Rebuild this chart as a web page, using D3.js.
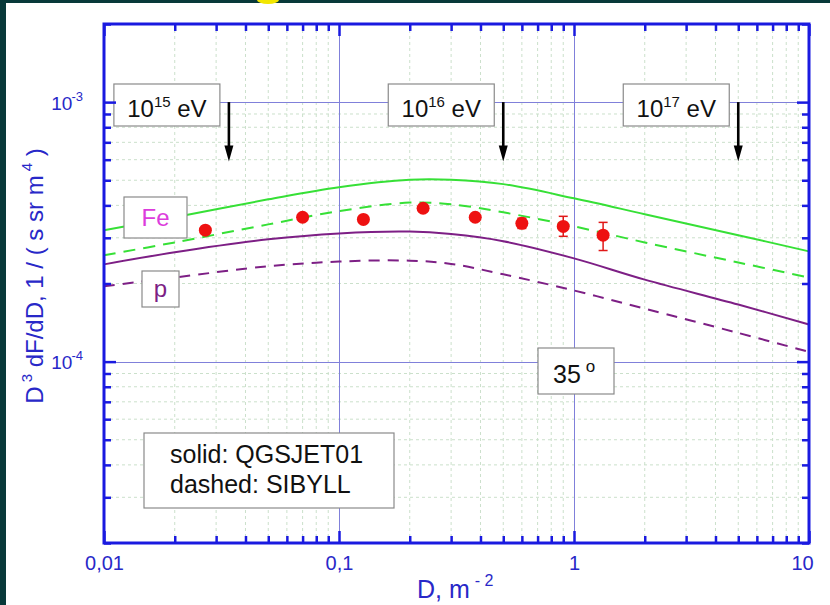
<!DOCTYPE html>
<html>
<head>
<meta charset="utf-8">
<script src="https://d3js.org/d3.v7.min.js"></script>
<style>
  body { margin: 0; background: #fff; }
  svg { display: block; font-family: Arial, 'Liberation Sans', sans-serif; }
</style>
</head>
<body>
<svg width="830" height="605"></svg>
<script>
// model curves (D in m^-2, D^3 dF/dD in 1/(s sr m^4))
const dGrid  = [0.01, 0.02, 0.05, 0.1, 0.2, 0.3, 0.5, 1, 2, 5, 10];
const feQgs  = [3.21e-4, 3.60e-4, 4.22e-4, 4.70e-4, 5.02e-4, 5.02e-4, 4.83e-4, 4.26e-4, 3.70e-4, 3.07e-4, 2.66e-4];
const feSib  = [2.57e-4, 2.88e-4, 3.38e-4, 3.80e-4, 4.10e-4, 4.04e-4, 3.76e-4, 3.32e-4, 2.88e-4, 2.41e-4, 2.11e-4];
const pQgs   = [2.37e-4, 2.64e-4, 2.96e-4, 3.12e-4, 3.17e-4, 3.10e-4, 2.91e-4, 2.50e-4, 2.07e-4, 1.66e-4, 1.39e-4];
const pSib   = [1.95e-4, 2.11e-4, 2.33e-4, 2.43e-4, 2.45e-4, 2.38e-4, 2.17e-4, 1.88e-4, 1.60e-4, 1.29e-4, 1.09e-4];

// measured points
const obsD  = [0.027, 0.070, 0.127, 0.228, 0.38, 0.60, 0.90, 1.33];
const obsF  = [3.21e-4, 3.60e-4, 3.53e-4, 3.90e-4, 3.60e-4, 3.41e-4, 3.32e-4, 3.07e-4];
const obsLo = [3.21e-4, 3.60e-4, 3.53e-4, 3.90e-4, 3.60e-4, 3.26e-4, 3.04e-4, 2.68e-4];
const obsHi = [3.21e-4, 3.60e-4, 3.53e-4, 3.90e-4, 3.60e-4, 3.57e-4, 3.63e-4, 3.44e-4];

// energy markers
const energyExp = ["15", "16", "17"];
const arrowD    = [0.034, 0.5, 5];
const arrowTop  = 1e-3;
const arrowEnd  = 5.9e-4;

// axis ticks
const xMajor = [0.01, 0.1, 1, 10];
const xMajorLabels = ["0,01", "0,1", "1", "10"];
const yMajor = [1e-4, 1e-3];
const yMajorExp = ["-4", "-3"];

let blue = "#1a1ae0";
let labelBlue = "#2828c8";
let green = "#36e036";
let purple = "#7d1f85";

let L = 104, R = 809, T = 24, B = 543;

let svg = d3.select("svg");

let x = d3.scaleLog().domain([0.01, 10]).range([L, R]);
let y = d3.scaleLog().domain([2e-5, 2e-3]).range([B, T]);

// dark frame of the slide
svg.append("rect").attr("x", 0).attr("y", 0).attr("width", 6).attr("height", 605).attr("fill", "#08393a");
svg.append("rect").attr("x", 0).attr("y", 0).attr("width", 830).attr("height", 3).attr("fill", "#08393a");
svg.append("ellipse").attr("cx", 268).attr("cy", 0).attr("rx", 11).attr("ry", 4).attr("fill", "#f2e600");

let isDecade = v => Math.abs(Math.log10(v) - Math.round(Math.log10(v))) < 1e-6;

// grid
let grid = svg.append("g");
grid.selectAll(".gxm")
    .data(x.ticks().filter(v => !isDecade(v)))
    .join("line")
    .attr("x1", d => x(d)).attr("x2", d => x(d))
    .attr("y1", T).attr("y2", B)
    .attr("stroke", "#cbe0cb").attr("stroke-width", 1).attr("stroke-dasharray", "3,3");
grid.selectAll(".gym")
    .data(y.ticks().filter(v => !isDecade(v)))
    .join("line")
    .attr("x1", L).attr("x2", R)
    .attr("y1", d => y(d)).attr("y2", d => y(d))
    .attr("stroke", "#cbe0cb").attr("stroke-width", 1).attr("stroke-dasharray", "3,3");
grid.selectAll(".gxM")
    .data([0.1, 1])
    .join("line")
    .attr("x1", d => Math.round(x(d)) + 0.5).attr("x2", d => Math.round(x(d)) + 0.5)
    .attr("y1", T).attr("y2", B)
    .attr("stroke", "#8080da").attr("stroke-width", 1);
grid.selectAll(".gyM")
    .data(yMajor)
    .join("line")
    .attr("x1", L).attr("x2", R)
    .attr("y1", d => Math.round(y(d)) + 0.5).attr("y2", d => Math.round(y(d)) + 0.5)
    .attr("stroke", "#8080da").attr("stroke-width", 1);

// curves
let line = d3.line()
    .x((d, i) => x(dGrid[i]))
    .y(d => y(d))
    .curve(d3.curveCatmullRom.alpha(0.5));

let curves = [
    { v: feQgs, c: green, dash: null },
    { v: feSib, c: green, dash: "12,8" },
    { v: pQgs, c: purple, dash: null },
    { v: pSib, c: purple, dash: "11,8" }
];
svg.append("g").selectAll("path")
    .data(curves)
    .join("path")
    .attr("d", d => line(d.v))
    .attr("fill", "none")
    .attr("stroke", d => d.c)
    .attr("stroke-width", 2)
    .attr("stroke-dasharray", d => d.dash);

// points with error bars
let pts = obsD.map((d, i) => ({ d: d, f: obsF[i], lo: obsLo[i], hi: obsHi[i] }));
let errs = svg.append("g").selectAll("g")
    .data(pts.filter(p => p.hi > p.lo))
    .join("g")
    .attr("stroke", "#e01818").attr("stroke-width", 1.5);
errs.append("line")
    .attr("x1", p => x(p.d)).attr("x2", p => x(p.d))
    .attr("y1", p => y(p.hi)).attr("y2", p => y(p.lo));
errs.append("line")
    .attr("x1", p => x(p.d) - 4.5).attr("x2", p => x(p.d) + 4.5)
    .attr("y1", p => y(p.hi)).attr("y2", p => y(p.hi));
errs.append("line")
    .attr("x1", p => x(p.d) - 4.5).attr("x2", p => x(p.d) + 4.5)
    .attr("y1", p => y(p.lo)).attr("y2", p => y(p.lo));

svg.append("g").selectAll("circle")
    .data(pts)
    .join("circle")
    .attr("cx", p => x(p.d))
    .attr("cy", p => y(p.f))
    .attr("r", 6.5)
    .attr("fill", "#ee1111");

// boxed labels
function box(x0, y0, w, h) {
    svg.append("rect")
        .attr("x", x0).attr("y", y0).attr("width", w).attr("height", h)
        .attr("fill", "#fff").attr("stroke", "#8a8a8a").attr("stroke-width", 1.2);
}

// energy boxes + arrows
arrowD.forEach((d, i) => {
    let ax = x(d);
    box(ax - 115, 84, 106, 42);
    let t = svg.append("text")
        .attr("x", ax - 62).attr("y", 117)
        .attr("text-anchor", "middle")
        .attr("font-size", 24).attr("fill", "#111");
    t.append("tspan").text("10");
    t.append("tspan").attr("font-size", 15).attr("dy", -10).text(energyExp[i]);
    t.append("tspan").attr("dy", 10).text(" eV");

    svg.append("line")
        .attr("x1", ax).attr("x2", ax)
        .attr("y1", y(arrowTop)).attr("y2", y(arrowEnd) - 12)
        .attr("stroke", "#000").attr("stroke-width", 2.6);
    svg.append("path")
        .attr("d", `M${ax - 4.5},${y(arrowEnd) - 16} L${ax + 4.5},${y(arrowEnd) - 16} L${ax},${y(arrowEnd)} Z`)
        .attr("fill", "#000");
});

// Fe / p
box(124, 197, 63, 41);
svg.append("text").attr("x", 155.5).attr("y", 226).attr("text-anchor", "middle")
    .attr("font-size", 24).attr("fill", "#dc3cdc").text("Fe");
box(142, 271, 37, 36);
svg.append("text").attr("x", 160.5).attr("y", 297).attr("text-anchor", "middle")
    .attr("font-size", 24).attr("fill", purple).text("p");

// zenith angle
box(538, 348, 76, 46);
let za = svg.append("text").attr("x", 553).attr("y", 383)
    .attr("font-size", 25).attr("fill", "#111");
za.append("tspan").text("35");
za.append("tspan").attr("font-size", 17).attr("dx", 5).attr("dy", -11).text("o");

// legend
box(144, 433, 250, 75);
svg.append("text").attr("x", 170).attr("y", 463).attr("font-size", 25).attr("fill", "#111").text("solid: QGSJET01");
svg.append("text").attr("x", 170).attr("y", 493).attr("font-size", 25).attr("fill", "#111").text("dashed: SIBYLL");

// axes, ticks pointing inward on all four sides
function styleTicks(g) {
    g.select(".domain").remove();
    g.selectAll(".tick line").attr("stroke", blue).attr("stroke-width", 2.5);
}
let xMinor = x.ticks().filter(v => !isDecade(v));
let yMinor = y.ticks().filter(v => !isDecade(v));

svg.append("g").attr("transform", `translate(0,${B})`)
    .call(d3.axisBottom(x).tickValues(xMinor).tickSize(-7).tickFormat("")).call(styleTicks);
svg.append("g").attr("transform", `translate(0,${T})`)
    .call(d3.axisTop(x).tickValues(xMinor).tickSize(-7).tickFormat("")).call(styleTicks);
svg.append("g").attr("transform", `translate(0,${T})`)
    .call(d3.axisTop(x).tickValues(xMajor).tickSize(-12).tickFormat("")).call(styleTicks);
svg.append("g").attr("transform", `translate(${L},0)`)
    .call(d3.axisLeft(y).tickValues(yMinor).tickSize(-7).tickFormat("")).call(styleTicks);
svg.append("g").attr("transform", `translate(${R},0)`)
    .call(d3.axisRight(y).tickValues(yMinor).tickSize(-7).tickFormat("")).call(styleTicks);
svg.append("g").attr("transform", `translate(${R},0)`)
    .call(d3.axisRight(y).tickValues(yMajor).tickSize(-12).tickFormat("")).call(styleTicks);

let gxb = svg.append("g").attr("transform", `translate(0,${B})`)
    .call(d3.axisBottom(x).tickValues(xMajor).tickSize(-12).tickFormat((d, i) => xMajorLabels[i]))
    .call(styleTicks);
gxb.selectAll(".tick text")
    .attr("y", 27).attr("dy", null)
    .attr("font-size", 20).attr("fill", labelBlue)
    .attr("font-family", "Arial, 'Liberation Sans', sans-serif")
    .attr("dx", (d, i) => i === xMajor.length - 1 ? -7 : 0);

let gyl = svg.append("g").attr("transform", `translate(${L},0)`)
    .call(d3.axisLeft(y).tickValues(yMajor).tickSize(-12).tickFormat(""))
    .call(styleTicks);
gyl.selectAll(".tick text").each(function (d, i) {
    let t = d3.select(this).text(null)
        .attr("x", -21).attr("y", 7).attr("dy", null)
        .attr("text-anchor", "end")
        .attr("font-size", 19).attr("fill", labelBlue)
        .attr("font-family", "Arial, 'Liberation Sans', sans-serif");
    t.append("tspan").text("10");
    t.append("tspan").attr("font-size", 13).attr("dx", -1).attr("dy", -9).text(yMajorExp[i]);
});

// frame
svg.append("rect")
    .attr("x", L).attr("y", T).attr("width", R - L).attr("height", B - T)
    .attr("fill", "none").attr("stroke", blue).attr("stroke-width", 3);

// axis titles
let xt = svg.append("text").attr("x", 417).attr("y", 598)
    .attr("font-size", 25).attr("fill", labelBlue);
xt.append("tspan").text("D, m");
xt.append("tspan").attr("font-size", 16).attr("dx", 5).attr("dy", -12).text("- 2");

let yt = svg.append("text")
    .attr("transform", "translate(43,276) rotate(-90)")
    .attr("text-anchor", "middle")
    .attr("font-size", 24).attr("fill", labelBlue);
yt.append("tspan").text("D");
yt.append("tspan").attr("font-size", 15).attr("dx", 4).attr("dy", -11).text("3");
yt.append("tspan").attr("dy", 11).text(" dF/dD, 1 / ( s sr m");
yt.append("tspan").attr("font-size", 15).attr("dx", 4).attr("dy", -11).text("4");
yt.append("tspan").attr("dy", 11).text(" )");
</script>
</body>
</html>
